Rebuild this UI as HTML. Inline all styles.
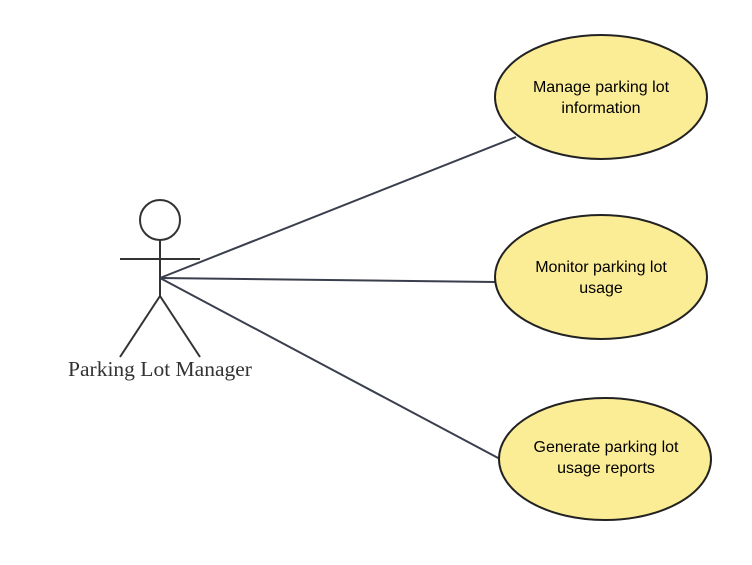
<!DOCTYPE html>
<html><head><style>body{margin:0;background:#fff}</style></head><body>
<svg width="752" height="560" xmlns="http://www.w3.org/2000/svg">
<rect width="752" height="560" fill="#fff"/>
<g stroke="#333" stroke-width="2" fill="none">
<circle cx="160" cy="220" r="20" fill="#fff"/>
<line x1="160" y1="240" x2="160" y2="296"/>
<line x1="120" y1="259" x2="200" y2="259"/>
<line x1="160" y1="296" x2="120" y2="357"/>
<line x1="160" y1="296" x2="200" y2="357"/>
</g>
<g stroke="#3a3f4d" stroke-width="2">
<line x1="160" y1="278" x2="516" y2="137"/>
<line x1="160" y1="278" x2="495" y2="282"/>
<line x1="160" y1="278" x2="500" y2="459"/>
</g>
<g fill="#fbec96" stroke="#222" stroke-width="2">
<ellipse cx="601" cy="97" rx="106" ry="62"/>
<ellipse cx="601" cy="277" rx="106" ry="62"/>
<ellipse cx="605" cy="459" rx="106" ry="61"/>
</g>
<g font-family="Liberation Sans, sans-serif" font-size="16" fill="#000" text-anchor="middle">
<text x="601" y="92">Manage parking lot</text>
<text x="601" y="113">information</text>
<text x="601" y="272">Monitor parking lot</text>
<text x="601" y="293">usage</text>
<text x="606" y="452">Generate parking lot</text>
<text x="606" y="473">usage reports</text>
</g>
<text x="160" y="376" font-family="Liberation Serif, serif" font-size="21.5" fill="#333" text-anchor="middle">Parking Lot Manager</text>
</svg>
</body></html>
